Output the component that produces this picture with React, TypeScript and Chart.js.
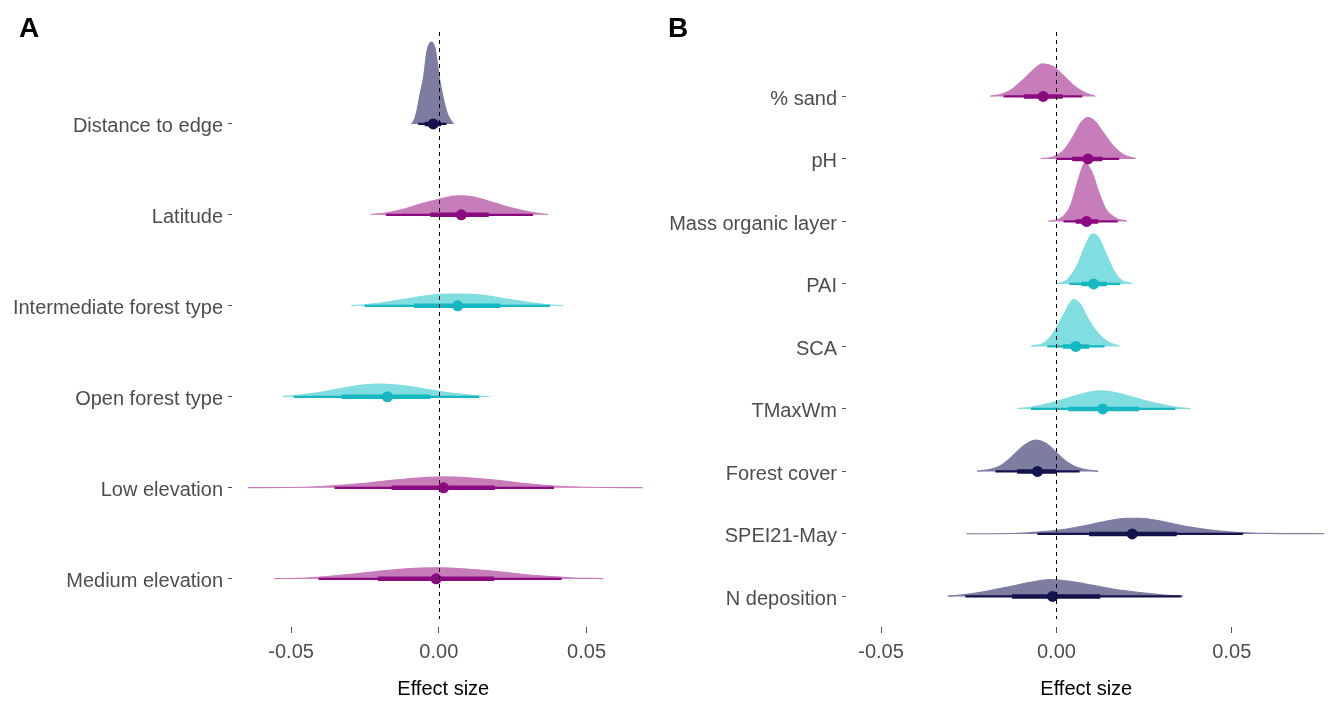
import React, { useEffect, useRef } from "react";
import { Chart, registerables } from "chart.js";

Chart.register(...registerables);

const FONT = "'Liberation Sans', Arial, Helvetica, sans-serif";

// ---------------- Panel A data ----------------
const labelsA = [
  "Distance to edge",
  "Latitude",
  "Intermediate forest type",
  "Open forest type",
  "Low elevation",
  "Medium elevation",
];
const groupA = ["navy", "magenta", "cyan", "cyan", "magenta", "magenta"];
const medianA = [-0.0019, 0.0076, 0.0064, -0.0174, 0.0016, -0.0009];
const lo66A = [-0.0048, -0.0029, -0.0084, -0.0329, -0.016, -0.0206];
const hi66A = [0.0008, 0.0169, 0.0209, -0.0029, 0.019, 0.0187];
const lo95A = [-0.007, -0.0179, -0.0251, -0.0491, -0.0353, -0.0407];
const hi95A = [0.0026, 0.0319, 0.0376, 0.0137, 0.039, 0.0416];
const densXA = [
  [-0.0093, -0.0085, -0.0075, -0.0062, -0.0052, -0.004, -0.0025, -0.0012, 0.0002, 0.0015, 0.0028, 0.004, 0.005],
  [-0.0229, -0.018, -0.012, -0.006, 0.0, 0.005, 0.0076, 0.011, 0.016, 0.022, 0.028, 0.033, 0.0369],
  [-0.0296, -0.025, -0.018, -0.01, -0.003, 0.003, 0.009, 0.015, 0.022, 0.029, 0.036, 0.0421],
  [-0.0527, -0.048, -0.042, -0.035, -0.028, -0.021, -0.014, -0.007, 0.0, 0.007, 0.013, 0.0171],
  [-0.0646, -0.045, -0.035, -0.025, -0.015, -0.006, 0.002, 0.01, 0.019, 0.028, 0.039, 0.05, 0.069],
  [-0.0556, -0.045, -0.038, -0.028, -0.018, -0.008, 0.0, 0.008, 0.018, 0.028, 0.038, 0.046, 0.0557],
];
const densHA = [
  [0, 0.03, 0.13, 0.35, 0.5, 0.8, 0.9, 0.82, 0.5, 0.28, 0.12, 0.04, 0],
  [0.005, 0.02, 0.06, 0.12, 0.17, 0.205, 0.21, 0.2, 0.16, 0.1, 0.05, 0.02, 0.005],
  [0.003, 0.012, 0.04, 0.08, 0.115, 0.13, 0.13, 0.115, 0.08, 0.045, 0.015, 0.003],
  [0.003, 0.015, 0.04, 0.08, 0.12, 0.14, 0.13, 0.1, 0.06, 0.03, 0.012, 0.003],
  [0.002, 0.006, 0.025, 0.05, 0.085, 0.11, 0.12, 0.11, 0.085, 0.05, 0.02, 0.006, 0.002],
  [0.002, 0.008, 0.025, 0.055, 0.09, 0.115, 0.12, 0.11, 0.085, 0.05, 0.025, 0.008, 0.002],
];

// ---------------- Panel B data ----------------
const labelsB = [
  "% sand",
  "pH",
  "Mass organic layer",
  "PAI",
  "SCA",
  "TMaxWm",
  "Forest cover",
  "SPEI21-May",
  "N deposition",
];
const groupB = ["magenta", "magenta", "magenta", "cyan", "cyan", "cyan", "navy", "navy", "navy"];
const medianB = [-0.0038, 0.009, 0.0086, 0.0106, 0.0055, 0.0132, -0.0054, 0.0216, -0.0011];
const lo66B = [-0.0093, 0.0045, 0.0055, 0.0071, 0.0018, 0.0034, -0.0112, 0.0093, -0.0127];
const hi66B = [0.0018, 0.0131, 0.0119, 0.0144, 0.0093, 0.0236, 0.0, 0.0343, 0.0125];
const lo95B = [-0.0151, 0.0, 0.002, 0.0037, -0.0026, -0.0073, -0.0174, -0.0054, -0.026];
const hi95B = [0.0074, 0.0179, 0.0175, 0.0182, 0.0137, 0.0339, 0.0066, 0.0532, 0.0356];
const densXB = [
  [-0.0188, -0.016, -0.013, -0.01, -0.007, -0.004, -0.001, 0.002, 0.005, 0.008, 0.011],
  [-0.0045, -0.001, 0.002, 0.005, 0.007, 0.009, 0.011, 0.013, 0.016, 0.019, 0.0226],
  [-0.0023, 0.001, 0.004, 0.006, 0.0081, 0.01, 0.012, 0.014, 0.017, 0.02],
  [0.0003, 0.003, 0.006, 0.008, 0.0103, 0.012, 0.014, 0.016, 0.018, 0.0216],
  [-0.0072, -0.004, -0.001, 0.002, 0.0049, 0.007, 0.009, 0.012, 0.015, 0.0179],
  [-0.0112, -0.007, -0.002, 0.003, 0.008, 0.012, 0.016, 0.021, 0.026, 0.031, 0.035, 0.0383],
  [-0.0226, -0.019, -0.016, -0.013, -0.01, -0.006, -0.003, 0.0, 0.003, 0.006, 0.009, 0.0119],
  [-0.0257, -0.012, -0.005, 0.002, 0.008, 0.014, 0.02, 0.024, 0.03, 0.036, 0.043, 0.05, 0.06, 0.0764],
  [-0.031, -0.026, -0.02, -0.013, -0.007, -0.002, 0.004, 0.01, 0.017, 0.024, 0.03, 0.0361],
];
const densHB = [
  [0.005, 0.03, 0.1, 0.24, 0.4, 0.52, 0.48, 0.33, 0.17, 0.06, 0.005],
  [0.005, 0.03, 0.13, 0.38, 0.58, 0.66, 0.6, 0.45, 0.22, 0.07, 0.005],
  [0.005, 0.04, 0.25, 0.62, 0.93, 0.8, 0.48, 0.2, 0.05, 0.005],
  [0.005, 0.06, 0.3, 0.58, 0.8, 0.74, 0.5, 0.25, 0.08, 0.005],
  [0.005, 0.04, 0.2, 0.5, 0.75, 0.66, 0.44, 0.2, 0.06, 0.005],
  [0.005, 0.03, 0.09, 0.17, 0.25, 0.29, 0.27, 0.2, 0.12, 0.06, 0.02, 0.005],
  [0.005, 0.03, 0.09, 0.22, 0.38, 0.5, 0.45, 0.3, 0.15, 0.06, 0.02, 0.005],
  [0.002, 0.006, 0.03, 0.07, 0.13, 0.2, 0.25, 0.25, 0.2, 0.13, 0.07, 0.03, 0.008, 0.002],
  [0.005, 0.03, 0.08, 0.16, 0.23, 0.27, 0.24, 0.18, 0.11, 0.06, 0.025, 0.005],
];

const xTicks = [-0.05, 0, 0.05];

const COLORS: Record<string, { light: string; dark: string }> = {
  navy: { light: "#7d7da2", dark: "#13134d" },
  magenta: { light: "#c77dba", dark: "#8c0a7f" },
  cyan: { light: "#80dde0", dark: "#15b8c2" },
};

type PanelProps = {
  labels: string[];
  group: string[];
  median: number[];
  lo66: number[];
  hi66: number[];
  lo95: number[];
  hi95: number[];
  densX: number[][];
  densH: number[][];
  left: number;
  width: number;
  yAxisWidth: number;
  padRight: number;
  xMin: number;
  xMax: number;
  yMin: number;
  yMax: number;
};

const zeroLinePlugin = {
  id: "zeroLine",
  afterDatasetsDraw(chart: any) {
    const { ctx, chartArea, scales } = chart;
    const x = Math.round(scales.x.getPixelForValue(0)) + 0.5;
    ctx.save();
    ctx.strokeStyle = "#000";
    ctx.lineWidth = 1;
    ctx.setLineDash([4, 4]);
    ctx.beginPath();
    ctx.moveTo(x, chartArea.top);
    ctx.lineTo(x, chartArea.bottom - 8);
    ctx.stroke();
    ctx.restore();
  },
};

function Panel(p: PanelProps) {
  const ref = useRef<HTMLCanvasElement | null>(null);
  useEffect(() => {
    if (!ref.current) return;
    const n = p.labels.length;
    const datasets: any[] = [];
    p.labels.forEach((_, i) => {
      const base = n - 1 - i;
      const c = COLORS[p.group[i]];
      datasets.push({
        type: "line",
        data: p.densX[i].map((x, k) => ({ x, y: base + p.densH[i][k] })),
        fill: { value: base },
        backgroundColor: c.light,
        borderColor: c.light,
        borderWidth: 1.2,
        pointRadius: 0,
        cubicInterpolationMode: "monotone",
        order: 4,
      });
      datasets.push({
        type: "line",
        data: [
          { x: p.lo95[i], y: base },
          { x: p.hi95[i], y: base },
        ],
        borderColor: c.dark,
        borderWidth: 2.2,
        pointRadius: 0,
        fill: false,
        borderCapStyle: "butt",
        order: 3,
      });
      datasets.push({
        type: "line",
        data: [
          { x: p.lo66[i], y: base },
          { x: p.hi66[i], y: base },
        ],
        borderColor: c.dark,
        borderWidth: 4.5,
        pointRadius: 0,
        fill: false,
        borderCapStyle: "butt",
        order: 2,
      });
      datasets.push({
        type: "line",
        data: [{ x: p.median[i], y: base }],
        showLine: false,
        pointRadius: 5.5,
        pointBackgroundColor: c.dark,
        pointBorderColor: c.dark,
        pointBorderWidth: 0,
        order: 1,
      });
    });

    const chart = new Chart(ref.current, {
      type: "line",
      data: { datasets },
      options: {
        responsive: false,
        animation: false,
        events: [],
        layout: { padding: { left: 0, right: p.padRight, top: 32, bottom: 0 } },
        plugins: { legend: { display: false }, tooltip: { enabled: false } },
        scales: {
          x: {
            type: "linear",
            min: p.xMin,
            max: p.xMax,
            afterBuildTicks: (scale: any) => {
              scale.ticks = xTicks.map((v) => ({ value: v }));
            },
            afterFit: (scale: any) => {
              scale.height = 74;
            },
            ticks: {
              callback: (v: any) => Number(v).toFixed(2),
              color: "#4d4d4d",
              font: { family: FONT, size: 20 },
              padding: 7,
              autoSkip: false,
              maxRotation: 0,
            },
            grid: {
              drawOnChartArea: false,
              drawTicks: true,
              tickLength: 6,
              color: "#555",
            },
            border: { display: false },
            title: {
              display: true,
              text: "Effect size",
              color: "#000",
              font: { family: FONT, size: 20 },
              padding: { top: 0, bottom: 0 },
            },
          },
          y: {
            type: "linear",
            min: p.yMin,
            max: p.yMax,
            afterBuildTicks: (scale: any) => {
              scale.ticks = p.labels.map((_, i) => ({ value: i }));
            },
            afterFit: (scale: any) => {
              scale.width = p.yAxisWidth;
            },
            ticks: {
              callback: (v: any) => p.labels[n - 1 - Math.round(Number(v))],
              color: "#4d4d4d",
              font: { family: FONT, size: 20 },
              padding: 5,
              labelOffset: 3,
              autoSkip: false,
            },
            grid: {
              drawOnChartArea: false,
              drawTicks: true,
              tickLength: 4,
              color: "#555",
            },
            border: { display: false },
          },
        },
      },
      plugins: [zeroLinePlugin],
    } as any);
    return () => chart.destroy();
  }, []);
  return (
    <canvas
      ref={ref}
      width={p.width}
      height={701}
      style={{ position: "absolute", left: p.left, top: 0, width: p.width, height: 701 }}
    />
  );
}

export default function App() {
  return (
    <div style={{ position: "absolute", left: 0, top: 0, width: 1332, height: 701, background: "#fff" }}>
      <Panel
        labels={labelsA}
        group={groupA}
        median={medianA}
        lo66={lo66A}
        hi66={hi66A}
        lo95={lo95A}
        hi95={hi95A}
        densX={densXA}
        densH={densHA}
        left={0}
        width={660}
        yAxisWidth={232}
        padRight={5}
        xMin={-0.07}
        xMax={0.073}
        yMin={-0.53}
        yMax={6.01}
      />
      <Panel
        labels={labelsB}
        group={groupB}
        median={medianB}
        lo66={lo66B}
        hi66={hi66B}
        lo95={lo95B}
        hi95={hi95B}
        densX={densXB}
        densH={densHB}
        left={660}
        width={672}
        yAxisWidth={186}
        padRight={4}
        xMin={-0.06}
        xMax={0.077}
        yMin={-0.49}
        yMax={9.03}
      />
      <div style={{ position: "absolute", left: 19, top: 12, fontFamily: FONT, fontWeight: "bold", fontSize: 28, color: "#000" }}>A</div>
      <div style={{ position: "absolute", left: 668, top: 12, fontFamily: FONT, fontWeight: "bold", fontSize: 28, color: "#000" }}>B</div>
    </div>
  );
}
